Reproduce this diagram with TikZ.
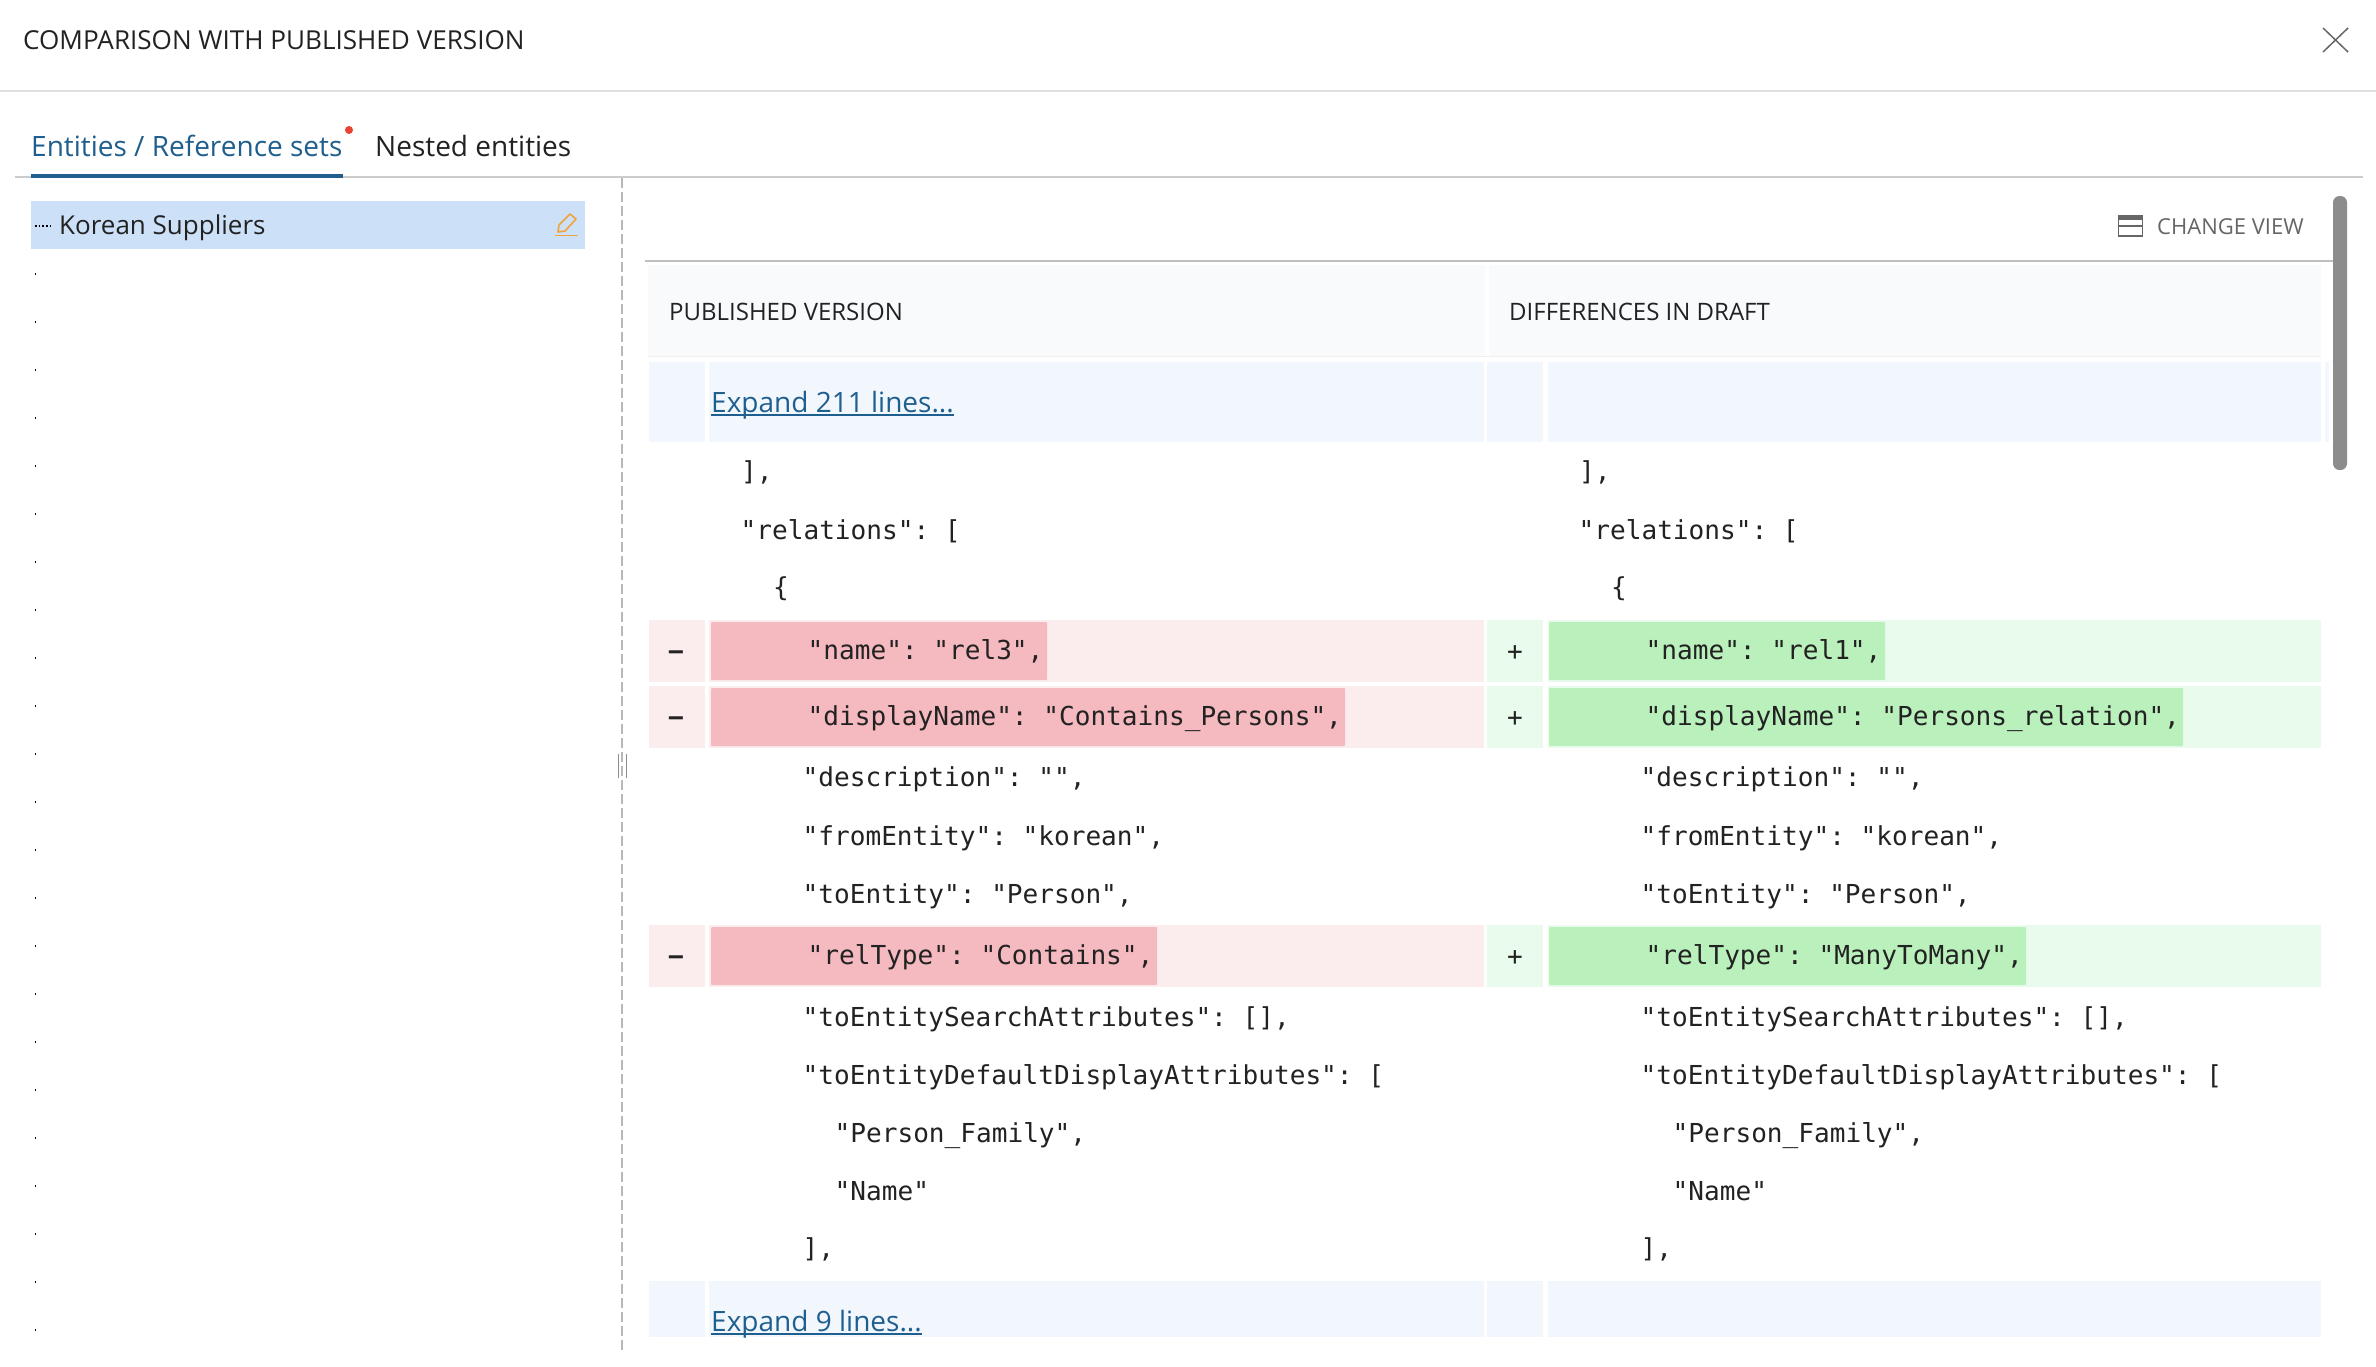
\documentclass[tikz,border=0pt]{standalone}
\usepackage{fontspec}
\setmainfont{Open Sans}
\setmonofont{DejaVu Sans Mono}
\definecolor{linkblue}{HTML}{1F5F8F}
\definecolor{inkdark}{HTML}{222222}
\definecolor{inkgrey}{HTML}{666666}
\definecolor{selrow}{HTML}{CCE0F8}
\definecolor{headbg}{HTML}{F9FAFC}
\definecolor{expandbg}{HTML}{F2F7FE}
\definecolor{delbg}{HTML}{FBECED}
\definecolor{delhl}{HTML}{F5B9C0}
\definecolor{addbg}{HTML}{E8FBEC}
\definecolor{addhl}{HTML}{BAF0BB}
\definecolor{reddot}{HTML}{EA4335}
\definecolor{pencil}{HTML}{F2A33A}
\tikzset{
	uitext/.style={inner sep=0pt,anchor=base west,text=inkdark,font=\fontsize{#1}{#1}\selectfont},
	code/.style={inner sep=0pt,anchor=base west,text=inkdark,font=\ttfamily\fontsize{26.1}{27}\selectfont},
	greyline/.style={line width=2pt,draw=black!20},
	linkline/.style={line width=1.8pt,draw=linkblue}
}
\begin{document}
\begin{tikzpicture}[x=1pt,y=-1pt]
		\useasboundingbox[fill=white] (0,0) rectangle (2376,1366);

		% Title bar
		\node[uitext=26.1] (title) at (23,49) {COMPARISON WITH PUBLISHED VERSION};
		\draw[line width=2pt,black!12] (0,90.7) -- (2376,90.7);
		\draw[line width=1.5pt,inkgrey] (2323,28) -- (2348,52);
		\draw[line width=1.5pt,inkgrey] (2348,28) -- (2323,52);

		% Tabs
		\node[uitext=28] (tabentities) at (31,156.5) {\textcolor{linkblue}{Entities / Reference sets}};
		\node[uitext=28] (tabnested) at (375,156.5) {Nested entities};
		\fill[reddot] (349,130) circle (4);
		\draw[greyline] (15,176.5) -- (2363,176.5);
		\fill[linkblue] (31,174) rectangle (343,178);

		% Left tree
		\fill[selrow] (31,201) rectangle (585,249);
		\draw[line width=1.2pt,black,dash pattern=on 1.5pt off 2.2pt] (35,226) -- (53,226);
		\node[uitext=26] (korean) at (59,234) {Korean Suppliers};
		\draw[line width=1.6pt,pencil,line join=round] (558,232) -- (559,225) -- (570,214) -- (576,219) -- (565,231) -- cycle;
		\draw[line width=1.6pt,pencil] (555,235.5) -- (578,235.5);
		\foreach \i in {1,...,23}
			\fill[black] (34.5,225+48*\i) rectangle (36,227+48*\i);

		% Splitter
		\draw[line width=1.3pt,black!28,dash pattern=on 10pt off 4pt] (622,178) -- (622,1354);
		\draw[line width=1pt,black!45] (618,754) -- (618,778);
		\draw[line width=1pt,black!45] (626,754) -- (626,778);

		% Change view
		\draw[line width=1.3pt,inkgrey] (2118.5,215.5) rectangle (2142.5,236);
		\fill[inkgrey] (2118.5,215.5) rectangle (2142.5,220);
		\draw[line width=1.3pt,inkgrey] (2118.5,226) -- (2142.5,226);
		\node[uitext=22] (changeview) at (2157,234) {\textcolor{inkgrey}{CHANGE VIEW}};
		\draw[line width=2pt,black!25] (645,261) -- (2333,261);

		% Scrollbar
		\fill[black!45,rounded corners=6.5pt] (2333,196) rectangle (2347,470);

		% Header row
		\fill[headbg] (648,265) rectangle (1485,356);
		\fill[headbg] (1489,265) rectangle (2321,356);
		\draw[line width=1.5pt,black!6] (648,356.5) -- (2321,356.5);
		\node[uitext=24] (headpub) at (669,320) {PUBLISHED VERSION};
		\node[uitext=24] (headdraft) at (1509,320) {DIFFERENCES IN DRAFT};

		% Expand rows
		\foreach \top/\bot in {362/442,1281/1337} {
			\fill[expandbg] (649,\top) rectangle (705,\bot);
			\fill[expandbg] (709,\top) rectangle (1484,\bot);
			\fill[expandbg] (1487,\top) rectangle (1543,\bot);
			\fill[expandbg] (1548,\top) rectangle (2321,\bot);
		}
		\fill[expandbg] (2325,362) rectangle (2329,442);
		\node[uitext=28] (expandtop) at (711,412) {\textcolor{linkblue}{Expand 211 lines...}};
		\node[uitext=28] (expandbot) at (711,1331) {\textcolor{linkblue}{Expand 9 lines...}};
		\draw[linkline] ([yshift=-3pt]expandtop.base west) -- ([yshift=-3pt]expandtop.base east);
		\draw[linkline] ([yshift=-3pt]expandbot.base west) -- ([yshift=-3pt]expandbot.base east);

		% Changed rows: top, left highlight end, right highlight end
		\foreach \top/\delend/\addend/\rowname in {620/1047/1885/a,686/1345/2183/b,925/1157/2026/c} {
			\fill[delbg] (649,\top) rectangle (705,\top+62);
			\fill[delbg] (709,\top) rectangle (1484,\top+62);
			\fill[delhl,rounded corners=1pt] (711,\top+2) rectangle (\delend,\top+60);
			\fill[addbg] (1487,\top) rectangle (1543,\top+62);
			\fill[addbg] (1548,\top) rectangle (2321,\top+62);
			\fill[addhl,rounded corners=1pt] (1549,\top+2) rectangle (\addend,\top+60);
			\node[code] (minus\rowname) at (668,\top+40) {\bfseries −};
			\node[code] (plus\rowname) at (1507,\top+40) {+};
		}

		% Changed text
		\node[code] (delname) at (807.5,659) {"name": "rel3",};
		\node[code] (addname) at (1645.5,659) {"name": "rel1",};
		\node[code] (deldisplay) at (807.5,725) {"displayName": "Contains\_Persons",};
		\node[code] (adddisplay) at (1645.5,725) {"displayName": "Persons\_relation",};
		\node[code] (deltype) at (807.5,964) {"relType": "Contains",};
		\node[code] (addtype) at (1645.5,964) {"relType": "ManyToMany",};

		% Unchanged text, both columns
		\foreach \shift/\col in {0/l,838/r} {
			\begin{scope}[xshift=\shift pt]
				\node[code] (close\col) at (741,480) {],};
				\node[code] (relations\col) at (740.5,539) {"relations": [};
				\node[code] (open\col) at (773,596) {\{};
				\node[code] (description\col) at (802.5,786) {"description": "",};
				\node[code] (from\col) at (802.5,845) {"fromEntity": "korean",};
				\node[code] (to\col) at (802.5,903) {"toEntity": "Person",};
				\node[code] (search\col) at (802.5,1026.5) {"toEntitySearchAttributes": [],};
				\node[code] (default\col) at (802.5,1084) {"toEntityDefaultDisplayAttributes": [};
				\node[code] (family\col) at (834.5,1142) {"Person\_Family",};
				\node[code] (attr\col) at (834.5,1200) {"Name"};
				\node[code] (end\col) at (802.5,1257.5) {],};
			\end{scope}
		}
	\end{tikzpicture}
\end{document}
